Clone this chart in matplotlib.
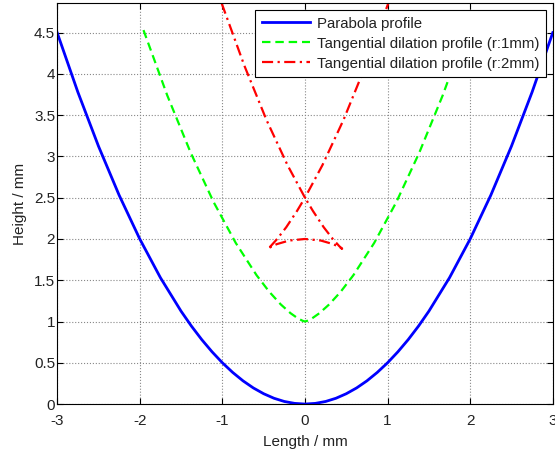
import matplotlib
matplotlib.use("Agg")
import matplotlib.pyplot as plt

plt.rcParams['font.family'] = ['Liberation Sans', 'DejaVu Sans']
plt.rcParams['axes.unicode_minus'] = False

# parabola profile
para_x = [-3, -2.75, -2.5, -2.25, -2, -1.75, -1.5, -1.375, -1.25, -1.125, -1, -0.875, -0.75, -0.625,
          -0.5, -0.375, -0.25, -0.125, 0,
          0.125, 0.25, 0.375, 0.5, 0.625, 0.75, 0.875, 1, 1.125, 1.25, 1.375, 1.5,
          1.75, 2, 2.25, 2.5, 2.75, 3]
para_y = [4.5, 3.781, 3.125, 2.531, 2.0, 1.531, 1.125, 0.945, 0.781, 0.633, 0.5, 0.383, 0.281, 0.195,
          0.125, 0.070, 0.031, 0.008, 0,
          0.008, 0.031, 0.070, 0.125, 0.195, 0.281, 0.383, 0.5, 0.633, 0.781, 0.945, 1.125,
          1.531, 2.0, 2.531, 3.125, 3.781, 4.5]

# tangential dilation r = 1mm
r1_x = [-1.955, -1.667, -1.383, -1.106, -0.838, -0.586, -0.432, -0.293, -0.175, -0.086, -0.029, -0.004, 0,
        0.004, 0.029, 0.086, 0.175, 0.293, 0.432, 0.586, 0.838, 1.106, 1.383, 1.667, 1.955]
r1_y = [4.531, 3.739, 3.044, 2.447, 1.952, 1.561, 1.360, 1.207, 1.101, 1.038, 1.009, 1.001, 1.0,
        1.001, 1.009, 1.038, 1.101, 1.207, 1.360, 1.561, 1.952, 2.447, 3.044, 3.739, 4.531]

# tangential dilation r = 2mm (swallowtail)
r2_x = [-1.009, -0.733, -0.466, -0.211, 0, 0.096, 0.227, 0.337, 0.414, 0.438, 0.450, 0.429, 0.343, 0.192, 0,
        -0.192, -0.343, -0.429, -0.450, -0.438, -0.414, -0.337, -0.227, -0.096, 0, 0.211, 0.466, 0.733, 1.009]
r2_y = [4.857, 4.098, 3.442, 2.894, 2.5, 2.34, 2.142, 2.0, 1.914, 1.892, 1.881, 1.895, 1.937, 1.981, 2.0,
        1.981, 1.937, 1.895, 1.881, 1.892, 1.914, 2.0, 2.142, 2.34, 2.5, 2.894, 3.442, 4.098, 4.857]

fig = plt.figure(figsize=(5.55, 4.55), dpi=100)
ax = fig.add_axes([0.103, 0.112, 0.893, 0.881])

ax.plot(para_x, para_y, color='#0000ff', lw=2, label='Parabola profile')
ax.plot(r1_x, r1_y, color='#00ff00', lw=1.6, ls='--', dashes=(3.8, 2.2), label='Tangential dilation profile (r:1mm)')
ax.plot(r2_x, r2_y, color='#ff0000', lw=1.6, ls='-.', dashes=(5, 2, 1, 2), label='Tangential dilation profile (r:2mm)')

ax.set_xlim(-3, 3)
ax.set_ylim(0, 4.857)
ax.set_xticks([-3, -2, -1, 0, 1, 2, 3])
ax.set_yticks([0, 0.5, 1, 1.5, 2, 2.5, 3, 3.5, 4, 4.5])
ax.set_yticklabels(['0', '0.5', '1', '1.5', '2', '2.5', '3', '3.5', '4', '4.5'])
ax.tick_params(direction='in', top=True, right=True, length=4, labelsize=11,
               labelcolor='#222222')
ax.tick_params(axis='x', pad=7)
ax.tick_params(axis='y', pad=1.5)
ax.grid(True, ls=':', color='#888888', lw=0.8)
for s in ax.spines.values():
    s.set_linewidth(0.8)

ax.set_xlabel('Length / mm', fontsize=11, labelpad=5, color='#222222')
ax.set_ylabel('Height / mm', fontsize=11, labelpad=5, color='#222222')

leg = ax.legend(loc='upper right', fontsize=10.8, fancybox=False, framealpha=1, edgecolor='black',
                handlelength=3.2, handletextpad=0.45, borderpad=0.45, labelspacing=0.4,
                borderaxespad=0.45)
leg.get_frame().set_linewidth(0.8)
for t in leg.get_texts():
    t.set_color('#222222')

fig.savefig('out.png', dpi=100)
